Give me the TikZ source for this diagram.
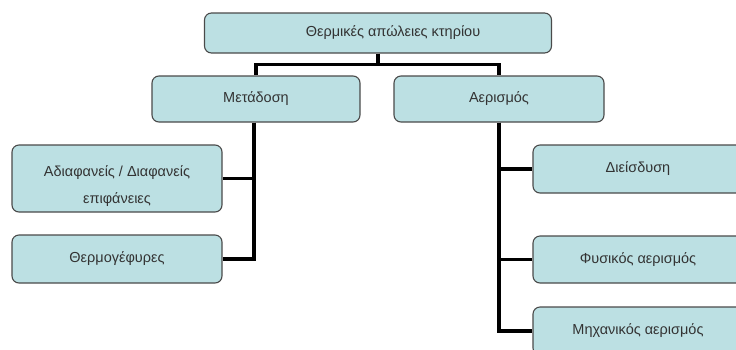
\documentclass[tikz,border=0pt]{standalone}
\usepackage{fontspec}
\setmainfont{Liberation Sans}
\definecolor{boxfill}{HTML}{BCE0E3}
\definecolor{boxline}{HTML}{4A4A4A}
\definecolor{txt}{HTML}{333333}
\begin{document}
\begin{tikzpicture}[x=1pt,y=-1pt,
  box/.style={draw=boxline, fill=boxfill, line width=1.1pt, rounded corners=7pt,
    inner sep=0pt, text=txt, font=\fontsize{14.5}{26}\selectfont, align=center},
  conn/.style={line width=3.2pt, black}]
\useasboundingbox (0,0) rectangle (736,349);
\node[box, minimum width=347, minimum height=40] (top) at (378,33) {\hspace*{30pt}Θερμικές απώλειες κτηρίου};
\node[box, minimum width=208, minimum height=46] (met) at (256,99) {Μετάδοση};
\node[box, minimum width=210, minimum height=46] (aer) at (499,99) {Αερισμός};
\node[box, minimum width=210, minimum height=67] (adia) at (117,178.5) {\raisebox{-6pt}[\height][\depth]{\begin{tabular}{@{}c@{}}Αδιαφανείς / Διαφανείς\\[1pt]επιφάνειες\end{tabular}}};
\node[box, minimum width=210, minimum height=48] (therm) at (117,259) {Θερμογέφυρες};
\node[box, minimum width=210, minimum height=48] (dii) at (638,169) {Διείσδυση};
\node[box, minimum width=210, minimum height=47] (fys) at (638,259.5) {Φυσικός αερισμός};
\node[box, minimum width=210, minimum height=48] (mich) at (638,331) {Μηχανικός αερισμός};
\draw[conn] (top.south) -- ++(0,11) -| (met.north);
\draw[conn] (top.south) -- ++(0,11) -| (aer.north);
\draw[conn] ([xshift=-2pt]met.south) |- (adia.east);
\draw[conn] ([xshift=-2pt]met.south) |- (therm.east);
\draw[conn] (aer.south) |- (dii.west);
\draw[conn] (aer.south) |- (fys.west);
\draw[conn] (aer.south) |- (mich.west);
\end{tikzpicture}
\end{document}
